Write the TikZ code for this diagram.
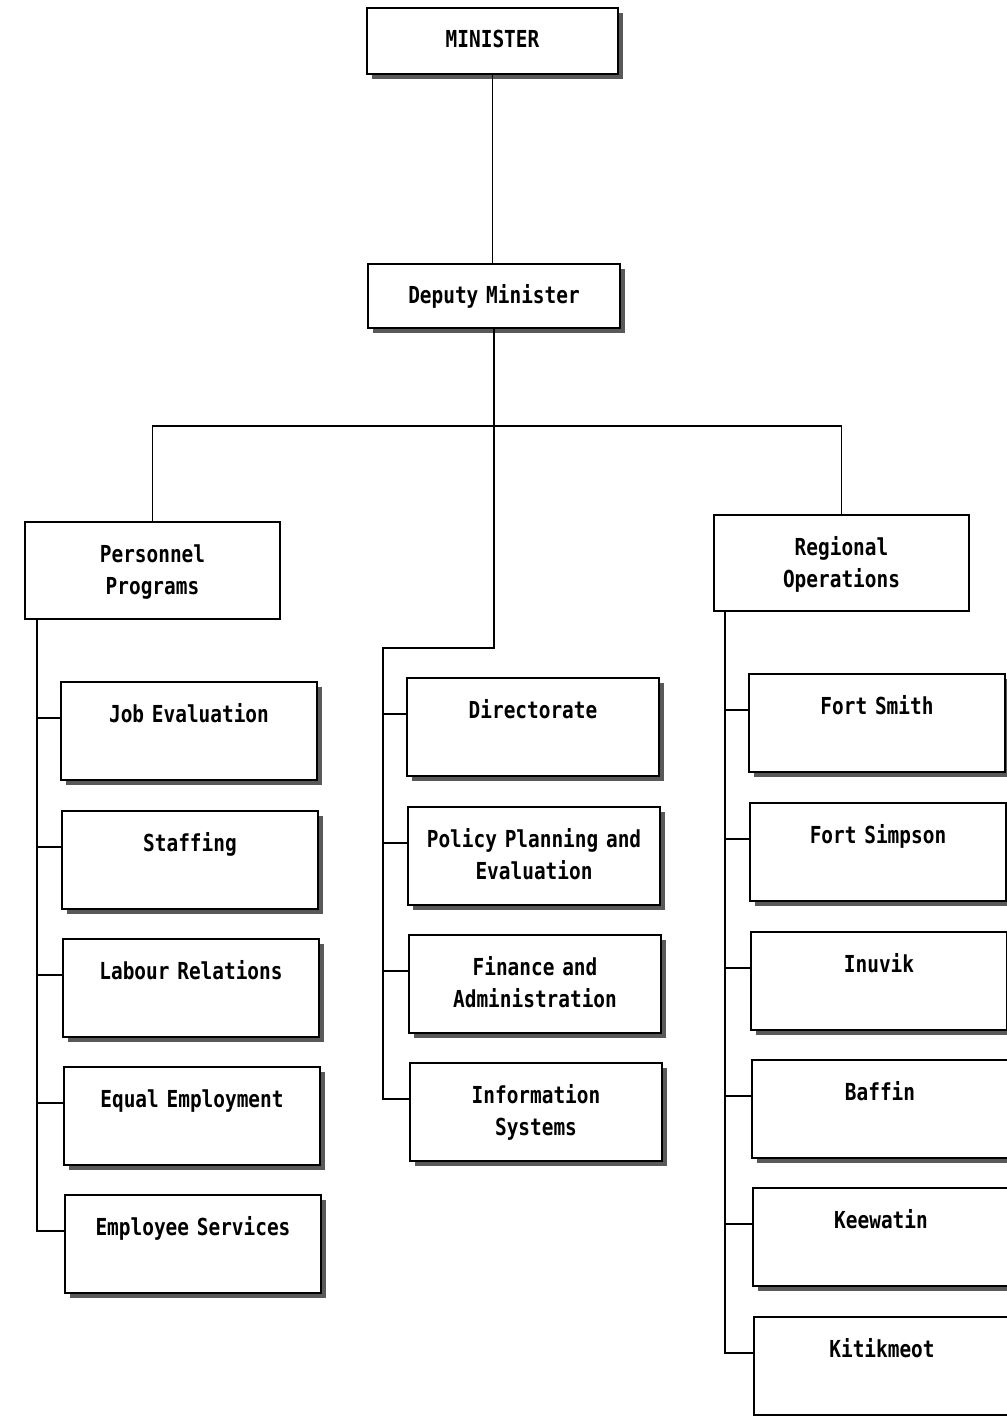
\documentclass[tikz,border=0pt]{standalone}
\usepackage{fontspec}
\newfontfamily\chartfont[FakeStretch=0.83]{DejaVu Sans Mono}
\usetikzlibrary{shadows}
\tikzset{
  office/.style={draw, line width=1pt, fill=white, anchor=north west,
    inner xsep=0pt, inner ysep=0pt, text height=20pt, align=center,
    font=\chartfont\bfseries\fontsize{11.7}{16}\selectfont},
  shadowed/.style={office, drop shadow={shadow xshift=2.5pt, shadow yshift=-2.5pt, fill=black!65, opacity=1}},
  unit/.style={shadowed, text width=128pt, text depth=29pt},
  branch/.style={shadowed, text width=126pt, text depth=29pt},
  link/.style={line width=0.9pt}
}

\begin{document}
\begin{tikzpicture}[x=0.5pt, y=-0.5pt]
          \useasboundingbox (0,0) rectangle (1006,1416);
          % top of the chart
          \node[shadowed, text width=125.5pt, text depth=13pt] (minister) at (366,7) {MINISTER};
          \node[shadowed, text width=126pt, text depth=12pt] (deputy) at (367,263) {Deputy Minister};
          \node[office, text width=127.5pt, text depth=28.5pt] (personnel) at (24,521) {Personnel\\Programs};
          \node[office, text width=127.5pt, text depth=28pt] (regional) at (713,514) {Regional\\Operations};
          % personnel programs
          \node[unit] (jobeval) at (60,681) {Job Evaluation};
          \node[unit] (staffing) at (61,810) {Staffing};
          \node[unit] (labour) at (62,938) {Labour Relations};
          \node[unit] (equal) at (63,1066) {Equal Employment};
          \node[unit] (empserv) at (64,1194) {Employee Services};
          % deputy minister's office
          \node[branch] (direct) at (406,677) {Directorate};
          \node[branch] (policy) at (407,806) {Policy Planning and\\Evaluation};
          \node[branch] (finance) at (408,934) {Finance and\\Administration};
          \node[branch] (info) at (409,1062) {Information\\Systems};
          % regions
          \node[unit] (ftsmith) at (748,673) {Fort Smith};
          \node[unit] (ftsimpson) at (749,802) {Fort Simpson};
          \node[unit] (inuvik) at (750,931) {Inuvik};
          \node[unit] (baffin) at (751,1059) {Baffin};
          \node[unit] (keewatin) at (752,1187) {Keewatin};
          \node[unit] (kitik) at (753,1316) {Kitikmeot};
          % connectors
          \path (deputy.south) ++(0,97) coordinate (bar) ++(0,222) coordinate (bend) ++(-111,0) coordinate (midtop);
          \path ([xshift=6.5pt]personnel.south west) coordinate (ptop);
          \path ([xshift=6pt]regional.south west) coordinate (rtop);
          \draw[link] (minister.south) -- (minister.south |- deputy.north);
          \draw[link] (personnel.north) |- (bar) -| (regional.north);
          \draw[link] (deputy.south) -- (bend) -- (midtop) |- (info.mid west);
          \draw[link] (midtop |- direct.mid west) -- (direct.mid west);
          \draw[link] (midtop |- policy.mid west) -- (policy.mid west);
          \draw[link] (midtop |- finance.mid west) -- (finance.mid west);
          \draw[link] (ptop) |- (empserv.mid west);
          \draw[link] (ptop |- jobeval.mid west) -- (jobeval.mid west);
          \draw[link] (ptop |- staffing.mid west) -- (staffing.mid west);
          \draw[link] (ptop |- labour.mid west) -- (labour.mid west);
          \draw[link] (ptop |- equal.mid west) -- (equal.mid west);
          \draw[link] (rtop) |- (kitik.mid west);
          \draw[link] (rtop |- ftsmith.mid west) -- (ftsmith.mid west);
          \draw[link] (rtop |- ftsimpson.mid west) -- (ftsimpson.mid west);
          \draw[link] (rtop |- inuvik.mid west) -- (inuvik.mid west);
          \draw[link] (rtop |- baffin.mid west) -- (baffin.mid west);
          \draw[link] (rtop |- keewatin.mid west) -- (keewatin.mid west);
        \end{tikzpicture}
\end{document}
